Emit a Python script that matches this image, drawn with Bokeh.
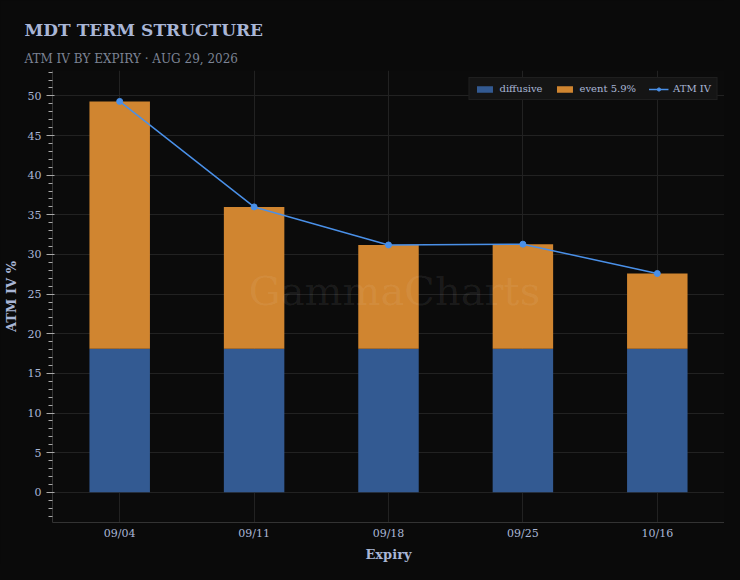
from bokeh.plotting import figure
from bokeh.models import Title, Label, Range1d, Legend, LegendItem, ColumnDataSource, FixedTicker
from bokeh.embed import file_html
from bokeh.resources import INLINE

expiries = ["09/04", "09/11", "09/18", "09/25", "10/16"]
diffusive = [18.1, 18.1, 18.1, 18.1, 18.1]
atm_iv = [49.3, 36.0, 31.2, 31.3, 27.6]
event = [a - d for a, d in zip(atm_iv, diffusive)]

F = "DejaVu Serif"
src = ColumnDataSource(dict(x=expiries, d=diffusive, e=event, top=atm_iv, iv=atm_iv))

p = figure(x_range=expiries, y_range=Range1d(-3.8, 53.2), width=724, height=564,
           output_backend="svg", toolbar_location=None,
           background_fill_color="#0b0b0b", border_fill_color="#0a0a0a",
           min_border_left=34, min_border_right=0, min_border_top=70, min_border_bottom=0,
           outline_line_color=None)

p.add_layout(Title(text="ATM IV BY EXPIRY · AUG 29, 2026", text_color="#7c8394",
                   text_font=F, text_font_size="12px", text_font_style="normal",
                   offset=-28), "above")
p.add_layout(Title(text="MDT TERM STRUCTURE", text_color="#a9b6d6",
                   text_font=F, text_font_size="17px", text_font_style="bold", offset=-28), "above")

b1 = p.vbar(x="x", bottom=0, top="d", width=0.45, source=src, fill_color="#335a92",
            line_color=None)
b2 = p.vbar(x="x", bottom="d", top="top", width=0.45, source=src, fill_color="#d08530",
            line_color=None)
l1 = p.line(x="x", y="iv", source=src, line_color="#4a90e8", line_width=1.5)
c1 = p.scatter(x="x", y="iv", source=src, size=6, fill_color="#4a90e8", line_color="#4a90e8")

leg = Legend(items=[LegendItem(label="diffusive", renderers=[b1]),
                    LegendItem(label="event 5.9%", renderers=[b2]),
                    LegendItem(label="ATM IV", renderers=[l1, c1])],
             orientation="horizontal", location="top_right",
             background_fill_color="#151515", background_fill_alpha=1,
             border_line_color="#2a2a2a", label_text_color="#a9b6d6",
             label_text_font=F, label_text_font_size="10px",
             glyph_width=20, glyph_height=8, spacing=12, padding=5, margin=7)
p.add_layout(leg)

p.xgrid.grid_line_color="#222222"
p.ygrid.grid_line_color="#222222"
p.yaxis.ticker = FixedTicker(ticks=list(range(0, 55, 5)),
                             minor_ticks=[x/1.0 for x in range(-3, 54)])
for ax in (p.xaxis, p.yaxis):
    ax.axis_line_color = "#333333"
    ax.major_tick_line_color = "#aaaaaa"
    ax.minor_tick_line_color = "#aaaaaa"
    ax.major_label_text_color = "#a9b6d6"
    ax.major_label_text_font = F
    ax.major_label_text_font_size = "11px"
    ax.axis_label_text_color = "#a9b6d6"
    ax.axis_label_text_font = F
    ax.axis_label_text_font_size = "13px"
    ax.axis_label_text_font_style = "bold"
p.xaxis.major_tick_line_color = None
p.xaxis.major_tick_out = 0
p.xaxis.major_label_standoff = 4
p.xaxis.axis_label = "Expiry"
p.yaxis.axis_label = "ATM IV %"
p.xaxis.axis_label_standoff = 4
p.yaxis.axis_label_standoff = 6

p.add_layout(Label(x=342, y=232, x_units="screen", y_units="screen", text="GammaCharts",
                   text_font=F, text_font_size="40px", text_color="#ffffff", text_alpha=0.07,
                   text_align="center", text_baseline="middle"))
p.add_layout(Label(x=676, y=503, x_units="screen", y_units="screen", text="Inverted",
                   text_font=F, text_font_size="13px", text_font_style="bold",
                   text_color="#ff3b3b", text_align="right", text_baseline="middle",
                   background_fill_color="#2a0c0e", border_line_color="#6a1a1e",
                   padding=5))
p.add_layout(Label(x=688, y=-12, x_units="screen", y_units="screen", text="γ GammaCharts.com",
                   text_font="DejaVu Sans", text_font_size="11px", text_font_style="bold",
                   text_color="#f0d070", text_align="right", text_baseline="middle"))

html = file_html(p, INLINE)
html = html.replace("<head>", "<head><style>body{background:#0a0a0a;}</style>", 1)
open("out.html", "w").write(html)
